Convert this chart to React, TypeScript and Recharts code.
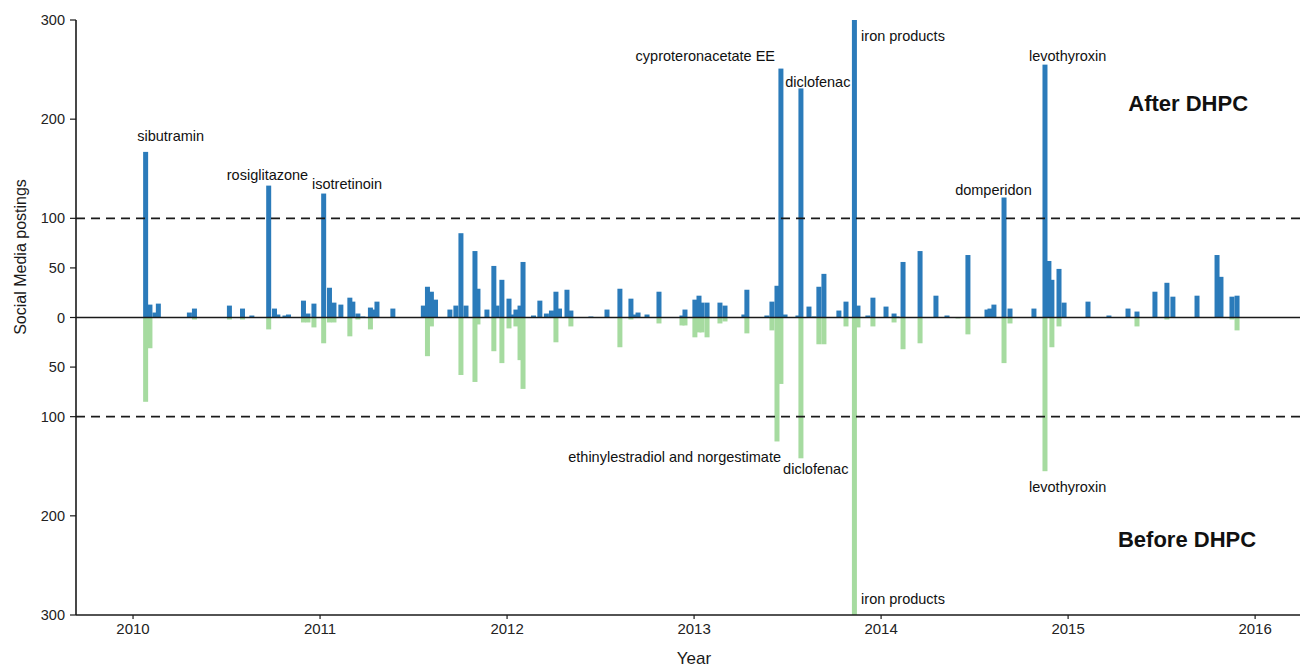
import React from 'react';
import {
  ComposedChart,
  Bar,
  XAxis,
  YAxis,
  ReferenceLine,
  ReferenceDot,
  Customized,
} from 'recharts';

// Posting dates (decimal years) and counts of social media postings
// after and before each Direct Healthcare Professional Communication.
const postYears = [
  2010.068, 2010.091, 2010.118, 2010.136, 2010.302, 2010.329, 2010.516, 2010.586, 2010.636, 2010.726,
  2010.757, 2010.775, 2010.813, 2010.832, 2010.912, 2010.936, 2010.968, 2011.02, 2011.051, 2011.075,
  2011.112, 2011.16, 2011.176, 2011.203, 2011.23, 2011.27, 2011.283, 2011.305, 2011.39, 2011.553,
  2011.575, 2011.596, 2011.618, 2011.695, 2011.727, 2011.754, 2011.781, 2011.829, 2011.845, 2011.893,
  2011.93, 2011.947, 2011.973, 2012.011, 2012.032, 2012.048, 2012.07, 2012.086, 2012.142, 2012.176,
  2012.211, 2012.238, 2012.262, 2012.281, 2012.321, 2012.342, 2012.449, 2012.535, 2012.604, 2012.663,
  2012.684, 2012.701, 2012.749, 2012.813, 2012.936, 2012.952, 2013.005, 2013.027, 2013.043, 2013.07,
  2013.139, 2013.166, 2013.267, 2013.283, 2013.39, 2013.417, 2013.444, 2013.465, 2013.487, 2013.556,
  2013.572, 2013.615, 2013.642, 2013.668, 2013.695, 2013.775, 2013.813, 2013.858, 2013.877, 2013.93,
  2013.957, 2014.027, 2014.07, 2014.086, 2014.118, 2014.209, 2014.294, 2014.353, 2014.412, 2014.465,
  2014.567, 2014.583, 2014.604, 2014.658, 2014.69, 2014.818, 2014.877, 2014.898, 2014.914, 2014.952,
  2014.979, 2015.107, 2015.219, 2015.321, 2015.369, 2015.465, 2015.529, 2015.561, 2015.69, 2015.797,
  2015.818, 2015.877, 2015.904,
];

const afterCounts = [
  167, 13, 5, 14, 5, 9, 12, 9, 2, 133,
  9, 3, 2, 3, 17, 4, 14, 125, 30, 15,
  13, 20, 16, 4, 1, 10, 8, 16, 9, 12,
  31, 26, 18, 8, 12, 85, 12, 67, 29, 8,
  52, 12, 38, 19, 3, 8, 12, 56, 2, 17,
  4, 7, 26, 9, 28, 7, 1, 8, 29, 19,
  3, 5, 3, 26, 2, 8, 18, 22, 15, 15,
  15, 12, 3, 28, 2, 16, 32, 251, 3, 2,
  231, 11, 1, 31, 44, 7, 16, 300, 12, 2,
  20, 11, 4, 1, 56, 67, 22, 2, 0, 63,
  8, 9, 13, 121, 9, 9, 255, 57, 38, 49,
  15, 16, 2, 9, 6, 26, 35, 21, 22, 63,
  41, 21, 22,
];

const beforeCounts = [
  85, 31, 0, 0, 0, 2, 2, 2, 0, 12,
  0, 0, 0, 0, 5, 5, 10, 26, 5, 5,
  0, 19, 0, 2, 0, 12, 0, 0, 0, 0,
  39, 9, 0, 0, 0, 58, 0, 65, 7, 0,
  34, 0, 46, 11, 0, 9, 43, 72, 0, 0,
  0, 0, 25, 0, 0, 9, 0, 0, 30, 2,
  0, 0, 0, 6, 8, 8, 20, 15, 15, 20,
  6, 4, 0, 16, 0, 13, 125, 67, 0, 0,
  142, 0, 0, 27, 27, 0, 9, 300, 10, 0,
  9, 0, 5, 0, 32, 26, 0, 0, 1, 17,
  0, 0, 0, 46, 6, 0, 155, 0, 30, 9,
  0, 0, 0, 0, 9, 0, 2, 0, 0, 0,
  0, 2, 13,
];

// Drug annotations: text, anchor year, anchor count, text anchor
const noteTexts = [
  'sibutramin', 'rosiglitazone', 'isotretinoin', 'cyproteronacetate EE', 'diclofenac',
  'iron products', 'levothyroxin', 'domperidon', 'ethinylestradiol and norgestimate',
  'diclofenac', 'iron products', 'levothyroxin',
];
const noteYears = [
  2010.201, 2010.719, 2010.957, 2013.433, 2013.487,
  2013.893, 2014.791, 2014.396, 2013.465,
  2013.476, 2013.893, 2014.791,
];
const noteValues = [178, 139, 130, 259, 232, 279, 259, 124, -146, -158, -289, -176];
const noteAnchors = [
  'middle', 'middle', 'start', 'end', 'start',
  'start', 'start', 'start', 'end',
  'start', 'start', 'start',
];

// Panel headings
const panelTexts = ['After DHPC', 'Before DHPC'];
const panelYears = [2015.642, 2015.636];
const panelValues = [208, -231];

const yTicks = [-300, -200, -100, -50, 0, 50, 100, 200, 300];
const xTicks = [2010, 2011, 2012, 2013, 2014, 2015, 2016];

const rows = postYears.map((year, i) => ({
  year,
  after: afterCounts[i],
  before: -beforeCounts[i],
}));

const FONT = '"Liberation Sans", Arial, sans-serif';
const BLUE = '#2b7bba';
const GREEN = '#a6dba0';
const BAR_W = 5;

// Fixed-width bar centred on the position the library computes.
function ThinBar(props: any) {
  const { x, y, width, height, fill } = props;
  if (!height || x == null) return null;
  const cx = x + width / 2;
  const top = Math.min(y, y + height);
  return <rect x={cx - BAR_W / 2} y={top} width={BAR_W} height={Math.abs(height)} fill={fill} />;
}

function noteRenderer(text: string, anchor: string, bold: boolean) {
  return (p: any) => {
    const vb = p.viewBox || {};
    return (
      <text
        x={vb.x + (vb.width || 0) / 2}
        y={vb.y + (vb.height || 0) / 2}
        textAnchor={anchor}
        fontFamily={FONT}
        fontSize={bold ? 22 : 14.5}
        fontWeight={bold ? 'bold' : 'normal'}
        fill="#111"
      >
        {text}
      </text>
    );
  };
}

function AxisTitles() {
  return (
    <g fontFamily={FONT} fill="#1a1a1a">
      <text x={694} y={663.5} textAnchor="middle" fontSize={17}>
        Year
      </text>
      <text
        x={0}
        y={0}
        transform="translate(26,257) rotate(-90)"
        textAnchor="middle"
        fontSize={16}
      >
        Social Media postings
      </text>
    </g>
  );
}

export default function App() {
  return (
    <div style={{ position: 'absolute', left: 0, top: 0, background: '#fff' }}>
      <ComposedChart
        width={1301}
        height={668}
        data={rows}
        stackOffset="sign"
        margin={{ top: 20, right: 1, bottom: 0, left: 0 }}
      >
        <XAxis
          dataKey="year"
          type="number"
          domain={[2009.695, 2016.24]}
          ticks={xTicks}
          allowDataOverflow
          interval={0}
          height={53}
          tickSize={4}
          tickMargin={4}
          stroke="#222"
          axisLine={{ stroke: '#1a1a1a', strokeWidth: 1.6 }}
          tickLine={{ stroke: '#1a1a1a', strokeWidth: 1.2 }}
          tick={{ fill: '#222', fontSize: 15, fontFamily: FONT }}
        />
        <YAxis
          type="number"
          domain={[-300, 300]}
          ticks={yTicks}
          allowDataOverflow
          interval={0}
          width={76}
          tickSize={6}
          tickMargin={5}
          tickFormatter={(v: number) => String(Math.abs(v))}
          axisLine={{ stroke: '#1a1a1a', strokeWidth: 1.6 }}
          tickLine={{ stroke: '#1a1a1a', strokeWidth: 1.2 }}
          tick={{ fill: '#222', fontSize: 14.5, fontFamily: FONT }}
        />
        <Bar
          dataKey="after"
          stackId="posts"
          fill={BLUE}
          barSize={BAR_W}
          shape={ThinBar}
          isAnimationActive={false}
        />
        <Bar
          dataKey="before"
          stackId="posts"
          fill={GREEN}
          barSize={BAR_W}
          shape={ThinBar}
          isAnimationActive={false}
        />
        <ReferenceLine y={100} stroke="#1a1a1a" strokeWidth={1.8} strokeDasharray="9 6" />
        <ReferenceLine y={-100} stroke="#1a1a1a" strokeWidth={1.8} strokeDasharray="9 6" />
        <ReferenceLine y={0} stroke="#1a1a1a" strokeWidth={1.6} />
        {noteTexts.map((t, i) => (
          <ReferenceDot
            key={`note-${i}`}
            x={noteYears[i]}
            y={noteValues[i]}
            r={0}
            fill="none"
            stroke="none"
            label={noteRenderer(t, noteAnchors[i], false)}
          />
        ))}
        {panelTexts.map((t, i) => (
          <ReferenceDot
            key={`panel-${i}`}
            x={panelYears[i]}
            y={panelValues[i]}
            r={0}
            fill="none"
            stroke="none"
            label={noteRenderer(t, 'middle', true)}
          />
        ))}
        <Customized component={AxisTitles} />
      </ComposedChart>
    </div>
  );
}
